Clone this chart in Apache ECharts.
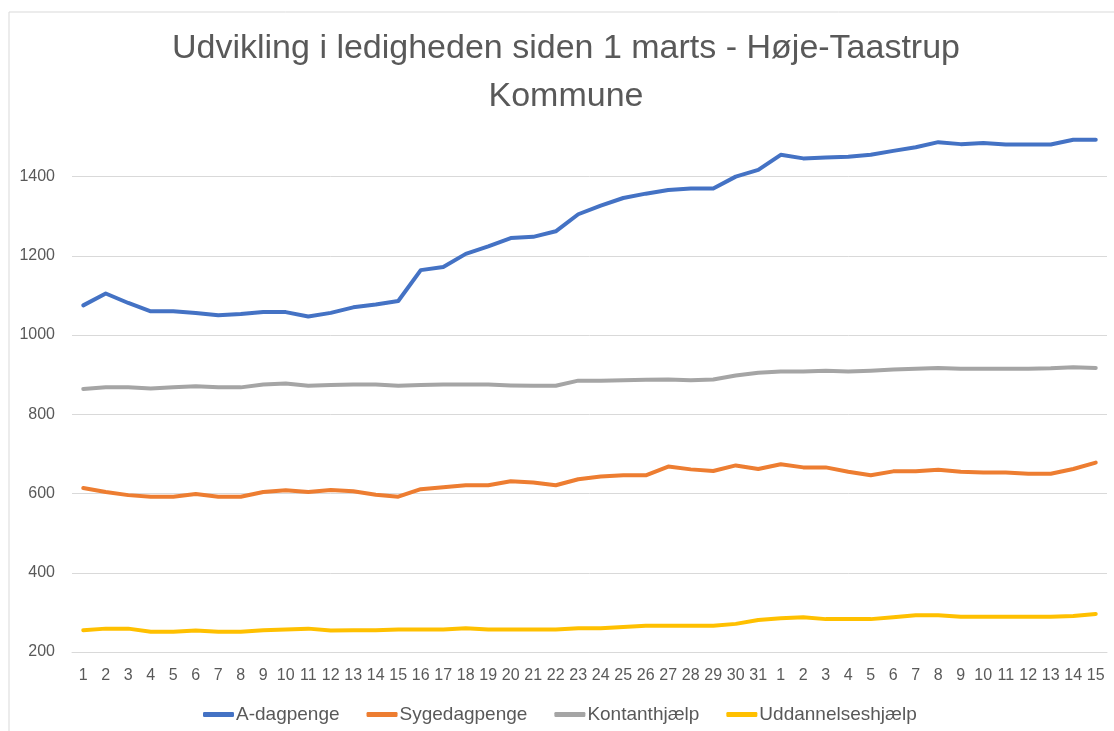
<!DOCTYPE html>
<html>
<head>
<meta charset="utf-8">
<title>Udvikling i ledigheden</title>
<script src="https://cdn.jsdelivr.net/npm/echarts@6/dist/echarts.min.js"></script>
<style>
    html, body { margin: 0; padding: 0; background: #fff; }
    #main { width: 1114px; height: 731px; }
</style>
</head>
<body>
<div id="main"></div>
<script>
// x axis: 1-31 marts, then 1-15 april
var days = ['1','2','3','4','5','6','7','8','9','10','11','12','13','14','15','16',
    '17','18','19','20','21','22','23','24','25','26','27','28','29','30','31',
    '1','2','3','4','5','6','7','8','9','10','11','12','13','14','15'];

var aDagpenge = [1075, 1105, 1081, 1060, 1060, 1056, 1050, 1053, 1058, 1058, 1047, 1056, 1070, 1077, 1086,
    1164, 1172, 1205, 1224, 1245, 1248, 1262, 1305, 1327, 1346, 1357, 1366, 1370, 1370, 1400, 1417,
    1455, 1446, 1448, 1450, 1455, 1465, 1474, 1487, 1482, 1485, 1481, 1481, 1481, 1493, 1493];

var sygedagpenge = [614, 604, 596, 592, 592, 599, 592, 592, 604, 608, 604, 609, 606, 597, 592,
    611, 616, 621, 621, 631, 628, 621, 636, 643, 646, 646, 668, 661, 657, 671, 662,
    674, 666, 666, 655, 646, 656, 656, 660, 655, 653, 653, 650, 650, 662, 678];

var kontanthjaelp = [864, 868, 868, 865, 868, 871, 868, 868, 875, 878, 872, 874, 875, 875, 872,
    874, 875, 875, 875, 873, 872, 872, 885, 885, 886, 887, 888, 886, 888, 898, 905,
    908, 908, 910, 908, 910, 913, 915, 917, 915, 915, 915, 915, 916, 919, 917];

var uddannelseshjaelp = [255, 259, 259, 251, 251, 254, 251, 251, 255, 257, 259, 254, 255, 255, 257,
    257, 257, 260, 257, 257, 257, 257, 260, 260, 263, 266, 266, 266, 266, 271, 281,
    285, 288, 283, 283, 283, 288, 293, 293, 289, 289, 289, 289, 289, 291, 296];

var chart = echarts.init(document.getElementById('main'));

function lineSeries(name, data, color) {
    return {
        name: name,
        type: 'line',
        data: data,
        symbol: 'none',
        smooth: false,
        itemStyle: { color: color },
        lineStyle: { color: color, width: 4, cap: 'round', join: 'round' }
    };
}

var option = {
    backgroundColor: '#ffffff',
    animation: false,
    // light frame round the chart (only top and left show in the picture)
    graphic: [{
        type: 'rect',
        z: -10,
        shape: { x: 9, y: 12, width: 1130, height: 740 },
        style: { fill: 'none', stroke: '#d9d9d9', lineWidth: 1 }
    }],
    title: {
        text: 'Udvikling i ledigheden siden 1 marts - Høje-Taastrup\nKommune',
        left: 561,
        top: 20,
        textAlign: 'center',
        textStyle: {
            color: '#595959',
            fontSize: 34,
            fontWeight: 'normal',
            fontFamily: "'Liberation Sans', sans-serif",
            lineHeight: 48
        }
    },
    legend: {
        left: 198,
        top: 700,
        icon: 'roundRect',
        itemWidth: 31,
        itemHeight: 5,
        itemGap: 27,
        textStyle: {
            color: '#595959',
            fontSize: 19,
            fontFamily: "'Liberation Sans', sans-serif",
            padding: [0, 0, 0, -3]
        }
    },
    grid: {
        left: 72,
        right: 7,
        top: 137,
        bottom: 79
    },
    xAxis: {
        type: 'category',
        data: days,
        boundaryGap: true,
        axisLine: { show: true, lineStyle: { color: '#d9d9d9', width: 1 } },
        axisTick: { show: false },
        axisLabel: {
            interval: 0,
            margin: 16,
            color: '#595959',
            fontSize: 16,
            fontFamily: "'Liberation Sans', sans-serif"
        }
    },
    yAxis: {
        type: 'value',
        min: 200,
        max: 1500,
        interval: 200,
        axisLine: { show: false },
        axisTick: { show: false },
        axisLabel: {
            margin: 17,
            color: '#595959',
            fontSize: 16,
            fontFamily: "'Liberation Sans', sans-serif",
            showMaxLabel: false,
            formatter: function (value) {
                return String(value);
            }
        },
        splitLine: {
            show: true,
            lineStyle: {
                // last line is the 1500 top edge, keep it hidden
                color: ['#d9d9d9', '#d9d9d9', '#d9d9d9', '#d9d9d9', '#d9d9d9', '#d9d9d9', '#d9d9d9', 'rgba(0,0,0,0)'],
                width: 1
            }
        }
    },
    series: [
        lineSeries('A-dagpenge', aDagpenge, '#4472C4'),
        lineSeries('Sygedagpenge', sygedagpenge, '#ED7D31'),
        lineSeries('Kontanthjælp', kontanthjaelp, '#A5A5A5'),
        lineSeries('Uddannelseshjælp', uddannelseshjaelp, '#FFC000')
    ]
};

chart.setOption(option);
</script>
</body>
</html>
